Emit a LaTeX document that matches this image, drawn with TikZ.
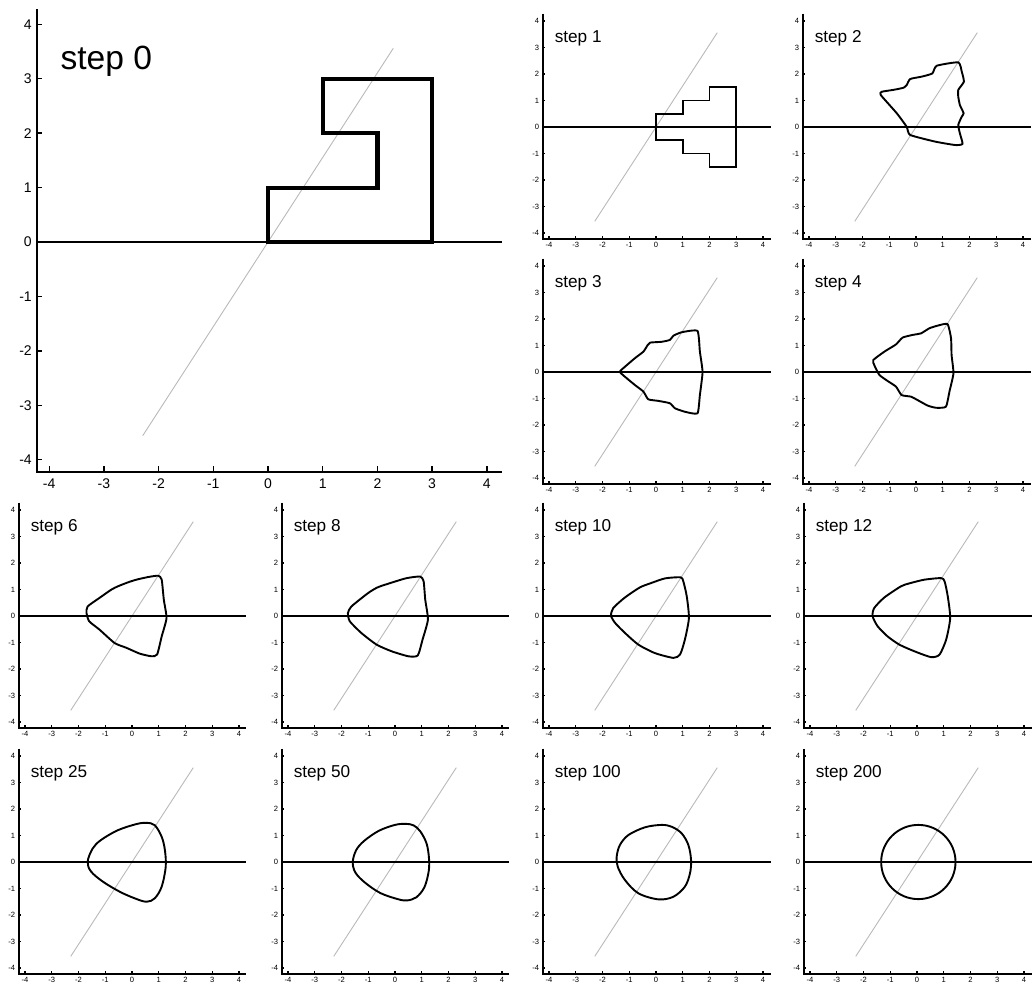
\documentclass[tikz,border=0pt]{standalone}
\usepackage{fontspec}
\setmainfont{Liberation Sans}
\usepackage{tikz}

\tikzset{
  axisline/.style={line width=1pt},
  zeroline/.style={line width=1.1pt},
  diagline/.style={gray!55, line width=0.45pt},
  curve/.style={line width=0.95pt, line join=round},
  tickmark/.style={line width=0.7pt},
  steplab/.style={font=\fontsize{8.6}{10}\selectfont, anchor=base west, inner sep=0pt},
  xticklab/.style={font=\fontsize{3.8}{4}\selectfont, anchor=north, inner sep=1.2pt},
  yticklab/.style={font=\fontsize{3.8}{4}\selectfont, anchor=east, inner sep=1.8pt},
  smallpanel/.style 2 args={shift={(#1,-#2)}, xscale=26.75, yscale=26.5},
}

% frame of one panel: axes, ticks, zero line, grey diagonal, label
\newcommand{\plotframe}[2]{%
  \draw[diagline] (-2.29,-3.56) -- (2.29,3.56);
  \draw[zeroline] (-4.22,0) -- (4.28,0);
  \draw[axisline] (-4.22,4.28) -- (-4.22,-4.23) -- (4.28,-4.23);
  \foreach \t in {-4,...,4} {
    \draw[tickmark] (\t,-4.23) -- ++(0,0.12);
    \draw[tickmark] (-4.22,\t) -- ++(0.08,0);
    \node[xticklab] (#1x\t) at (\t,-4.23) {\t};
    \node[yticklab] (#1y\t) at (-4.22,\t) {\t};
  }
  \node[steplab] (#1lab) at (-3.8,3.18) {#2};
}

\begin{document}
\begin{tikzpicture}[x=0.5pt, y=0.5pt]
  \useasboundingbox (0,0) rectangle (1033,-995);

  % Step 0 (large panel)
  \begin{scope}[shift={(268,-242)}, xscale=54.7, yscale=54.4,
      steplab/.append style={font=\fontsize{16.8}{19}\selectfont},
      xticklab/.append style={font=\fontsize{7}{8}\selectfont, inner sep=3pt},
      yticklab/.append style={font=\fontsize{7}{8}\selectfont, inner sep=2.5pt},
      zeroline/.style={line width=0.85pt}]
    \plotframe{s0}{step 0}
    \draw[curve, line width=2.1pt, line join=miter]
      (0,0) -- (3,0) -- (3,3) -- (1,3) -- (1,2) -- (2,2) -- (2,1) -- (0,1) -- cycle;
  \end{scope}

  % Step 1
  \begin{scope}[smallpanel={656}{127}]
    \plotframe{s1}{step 1}
    \draw[curve, line join=miter]
      (0,0.5) -- (1,0.5) -- (1,1) -- (2,1) -- (2,1.5) -- (3,1.5) -- (3,-1.5)
      -- (2,-1.5) -- (2,-1) -- (1,-1) -- (1,-0.5) -- (0,-0.5) -- cycle;
  \end{scope}

  % Step 2
  \begin{scope}[smallpanel={916}{127}]
    \plotframe{s2}{step 2}
    \draw[curve] plot[smooth cycle, tension=0.3] coordinates {
      (1.58,2.44) (0.77,2.31) (0.61,2.02) (0.21,1.90) (-0.22,1.81) (-0.35,1.58)
      (-0.47,1.48) (-0.85,1.40) (-1.28,1.33) (-1.32,1.21) (-0.72,0.52) (-0.35,0.01)
      (-0.22,-0.30) (0.71,-0.55) (1.46,-0.68) (1.74,-0.64) (1.64,-0.24) (1.58,0.08)
      (1.71,0.39) (1.78,0.52) (1.64,0.83) (1.58,1.14) (1.58,1.40) (1.79,1.71) (1.71,2.09)};
  \end{scope}

  % Step 3
  \begin{scope}[smallpanel={656}{372}]
    \plotframe{s3}{step 3}
    \draw[curve] plot[smooth cycle, tension=0.3] coordinates {
      (1.55,1.55) (0.96,1.50) (0.65,1.37) (0.52,1.21) (0.21,1.14) (-0.22,1.11)
      (-0.31,1.02) (-0.47,0.77) (-0.79,0.52) (-1.16,0.20) (-1.35,0.01) (-1.16,-0.18)
      (-0.79,-0.49) (-0.47,-0.74) (-0.29,-1.03) (0.09,-1.09) (0.52,-1.18) (0.71,-1.37)
      (1.08,-1.50) (1.55,-1.56) (1.64,-0.87) (1.74,0) (1.64,0.77)};
  \end{scope}

  % Step 4
  \begin{scope}[smallpanel={916}{372}]
    \plotframe{s4}{step 4}
    \draw[curve] plot[smooth cycle, tension=0.3] coordinates {
      (1.18,1.81) (0.81,1.75) (0.50,1.65) (0.19,1.46) (-0.12,1.40) (-0.50,1.30)
      (-0.75,1.04) (-1.18,0.77) (-1.60,0.45) (-1.56,0.26) (-1.37,-0.11) (-1.06,-0.34)
      (-0.75,-0.55) (-0.54,-0.87) (-0.19,-0.93) (0.06,-1.06) (0.44,-1.27) (0.75,-1.35)
      (1.12,-1.31) (1.25,-0.74) (1.40,-0.05) (1.33,0.64) (1.31,1.27)};
  \end{scope}

  % Step 6
  \begin{scope}[smallpanel={132}{616}]
    \plotframe{s6}{step 6}
    \draw[curve] plot[smooth cycle, tension=0.35] coordinates {
      (0.98,1.52) (0.60,1.47) (0.16,1.37) (-0.15,1.27) (-0.53,1.12) (-0.78,0.99)
      (-1.22,0.68) (-1.66,0.36) (-1.70,0.11) (-1.60,-0.20) (-1.22,-0.51) (-0.65,-1.02)
      (-0.21,-1.20) (0.29,-1.42) (0.73,-1.52) (0.94,-1.45) (1.11,-0.77) (1.29,-0.08)
      (1.19,0.61) (1.11,1.37)};
  \end{scope}

  % Step 8
  \begin{scope}[smallpanel={395}{616}]
    \plotframe{s8}{step 8}
    \draw[curve] plot[smooth cycle, tension=0.35] coordinates {
      (0.94,1.49) (0.44,1.43) (0,1.30) (-0.63,1.09) (-1.00,0.87) (-1.63,0.36)
      (-1.76,0.11) (-1.69,-0.20) (-1.26,-0.64) (-0.69,-1.08) (-0.13,-1.33) (0.50,-1.52)
      (0.85,-1.49) (1.03,-0.89) (1.23,-0.14) (1.13,0.62) (1.07,1.31)};
  \end{scope}

  % Step 10
  \begin{scope}[smallpanel={656}{616}]
    \plotframe{s10}{step 10}
    \draw[curve] plot[smooth cycle, tension=0.4] coordinates {
      (0.92,1.46) (0.34,1.42) (-0.22,1.23) (-0.60,1.08) (-1.16,0.70) (-1.60,0.30)
      (-1.68,0.01) (-1.53,-0.26) (-1.16,-0.64) (-0.66,-1.08) (-0.04,-1.40) (0.65,-1.58)
      (0.90,-1.45) (1.08,-0.89) (1.23,-0.08) (1.15,0.74) (1.02,1.31)};
  \end{scope}

  % Step 12
  \begin{scope}[smallpanel={917}{616}]
    \plotframe{s12}{step 12}
    \draw[curve] plot[smooth cycle, tension=0.4] coordinates {
      (0.90,1.43) (0.27,1.37) (-0.29,1.23) (-0.60,1.12) (-1.22,0.70) (-1.60,0.30)
      (-1.66,-0.01) (-1.47,-0.39) (-1.10,-0.77) (-0.66,-1.08) (-0.10,-1.33) (0.52,-1.55)
      (0.84,-1.46) (1.09,-0.89) (1.24,-0.08) (1.15,0.74) (1.03,1.31)};
  \end{scope}

  % Step 25
  \begin{scope}[smallpanel={132}{862}]
    \plotframe{s25}{step 25}
    \draw[curve] plot[smooth cycle, tension=0.55] coordinates {
      (0.54,1.48) (0.16,1.43) (-0.53,1.20) (-1.16,0.83) (-1.47,0.51) (-1.66,0.01)
      (-1.53,-0.36) (-1.09,-0.74) (-0.46,-1.12) (0.10,-1.37) (0.54,-1.50) (0.85,-1.37)
      (1.11,-0.93) (1.26,-0.18) (1.23,0.45) (1.11,0.95) (0.85,1.39)};
  \end{scope}

  % Step 50
  \begin{scope}[smallpanel={395}{862}]
    \plotframe{s50}{step 50}
    \draw[curve] plot[smooth cycle, tension=0.55] coordinates {
      (0.40,1.44) (0.00,1.40) (-0.60,1.18) (-1.15,0.80) (-1.45,0.45) (-1.58,0.00)
      (-1.48,-0.40) (-1.12,-0.78) (-0.55,-1.17) (0.10,-1.40) (0.45,-1.45) (0.80,-1.33)
      (1.10,-0.95) (1.26,-0.35) (1.27,0.15) (1.18,0.70) (0.95,1.15) (0.70,1.38)};
  \end{scope}

  % Step 100
  \begin{scope}[smallpanel={656}{862}]
    \plotframe{s100}{step 100}
    \draw[curve] plot[smooth cycle, tension=0.55] coordinates {
      (0.21,1.40) (-0.41,1.31) (-1.03,1.02) (-1.35,0.64) (-1.47,0.20) (-1.43,-0.18)
      (-1.16,-0.68) (-0.66,-1.18) (0.09,-1.41) (0.65,-1.31) (1.08,-0.93) (1.27,-0.43)
      (1.31,0.08) (1.21,0.64) (0.96,1.08) (0.59,1.33)};
  \end{scope}

  % Step 200
  \begin{scope}[smallpanel={917}{862}]
    \plotframe{s200}{step 200}
    \draw[curve] (0.05,0) circle[x radius=1.39, y radius=1.40];
  \end{scope}
\end{tikzpicture}
\end{document}
